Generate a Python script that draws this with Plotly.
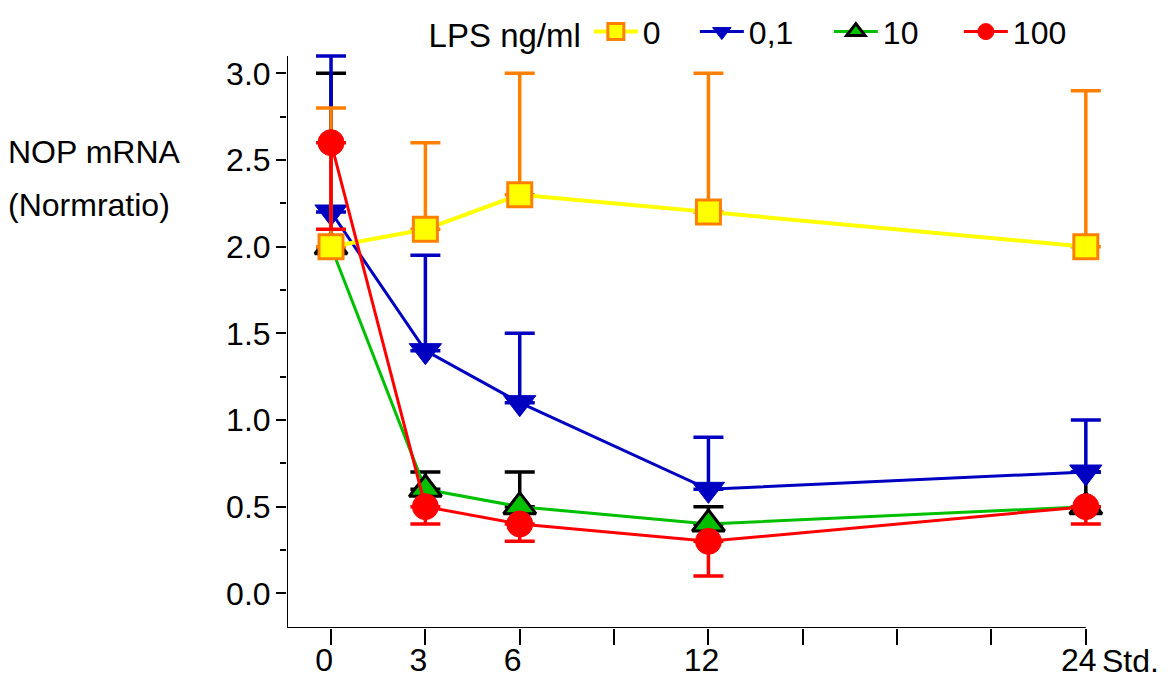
import plotly.graph_objects as go

# ---- data ----
hours = [0, 3, 6, 12, 24]
x_tick_vals = [0, 3, 6, 9, 12, 15, 18, 21, 24]
x_tick_text = ["0", "3", "6", "", "12", "", "", "", "24"]
y_tick_vals = [0.0, 0.5, 1.0, 1.5, 2.0, 2.5, 3.0]
y_minor_vals = [0.25, 0.75, 1.25, 1.75, 2.25, 2.75]

lps0 = [2.0, 2.1, 2.3, 2.2, 2.0]
lps0_err_up = [0.8, 0.5, 0.7, 0.8, 0.9]

lps01 = [2.2, 1.4, 1.1, 0.6, 0.7]
lps01_err_up = [0.9, 0.55, 0.4, 0.3, 0.3]

lps10 = [2.0, 0.6, 0.5, 0.4, 0.5]
lps10_err_up = [1.0, 0.1, 0.2, 0.1, 0.2]

lps100 = [2.6, 0.5, 0.4, 0.3, 0.5]
lps100_err_down = [0.5, 0.1, 0.1, 0.2, 0.1]

zeros = [0, 0, 0, 0, 0]

X_AXIS_MIN, X_AXIS_MAX = -1.4, 24
Y_AXIS_MIN, Y_AXIS_MAX = -0.2, 3.1

FONT = "Liberation Sans, Arial, sans-serif"
FS = 32
ERR_T = 3.5

fig = go.Figure()

# 10 ng/ml (green, drawn first)
fig.add_trace(go.Scatter(
    x=hours, y=lps10, name="10", mode="lines+markers", legendrank=3,
    legendwidth=71,
    line=dict(color="#00C000", width=3),
    marker=dict(symbol="triangle-up", size=28, color="#00C000",
                line=dict(color="black", width=3)),
    error_y=dict(type="data", symmetric=False, array=lps10_err_up,
                 arrayminus=zeros, color="black", thickness=ERR_T, width=15),
    cliponaxis=False,
))

# 0,1 ng/ml (blue)
fig.add_trace(go.Scatter(
    x=hours, y=lps01, name="0,1", mode="lines+markers", legendrank=2,
    legendwidth=75,
    line=dict(color="#0000C0", width=3),
    marker=dict(symbol="triangle-down", size=28, color="#0000C0",
                line=dict(color="#0000C0", width=1)),
    error_y=dict(type="data", symmetric=False, array=lps01_err_up,
                 arrayminus=zeros, color="#0000C0", thickness=ERR_T, width=15),
    cliponaxis=False,
))

# 0 ng/ml (yellow / orange)
fig.add_trace(go.Scatter(
    x=hours, y=lps0, name="0", mode="lines+markers", legendrank=1,
    legendwidth=47,
    line=dict(color="#FFFF00", width=4),
    marker=dict(symbol="square", size=24, color="#FFFF00",
                line=dict(color="#FF8000", width=3)),
    error_y=dict(type="data", symmetric=False, array=lps0_err_up,
                 arrayminus=zeros, color="#FF8000", thickness=ERR_T, width=15),
    cliponaxis=False,
))

# 100 ng/ml (red)
fig.add_trace(go.Scatter(
    x=hours, y=lps100, name="100", mode="lines+markers", legendrank=4,
    legendwidth=70,
    line=dict(color="#FF0000", width=3),
    marker=dict(symbol="circle", size=26, color="#FF0000",
                line=dict(color="#FF0000", width=1)),
    error_y=dict(type="data", symmetric=False, array=zeros,
                 arrayminus=lps100_err_down, color="#FF0000", thickness=ERR_T, width=15),
    cliponaxis=False,
))

# axis lines drawn as shapes so that the plot range can be a bit larger
# (prevents error-bar caps from being clipped at the edges)
shapes = [
    dict(type="line", xref="x", yref="y", x0=X_AXIS_MIN, x1=X_AXIS_MAX,
         y0=Y_AXIS_MIN, y1=Y_AXIS_MIN, line=dict(color="black", width=2)),
    dict(type="line", xref="x", yref="y", x0=X_AXIS_MIN, x1=X_AXIS_MIN,
         y0=Y_AXIS_MIN, y1=Y_AXIS_MAX, line=dict(color="black", width=2)),
]

fig.update_layout(
    width=1172, height=677,
    margin=dict(l=287, r=39, t=30, b=49, autoexpand=False),
    paper_bgcolor="white", plot_bgcolor="white",
    font=dict(family=FONT, size=FS, color="black"),
    showlegend=True,
    legend=dict(
        orientation="h", x=0.165, xanchor="left", y=0.997, yanchor="middle",
        title=dict(text="LPS ng/ml", font=dict(size=33)),
        font=dict(size=FS), itemwidth=44, traceorder="normal",
        bgcolor="rgba(0,0,0,0)",
    ),
    shapes=shapes,
    xaxis=dict(
        range=[X_AXIS_MIN, 25.5], showgrid=False, zeroline=False,
        showline=False,
        tickmode="array", tickvals=x_tick_vals, ticktext=x_tick_text,
        ticks="outside", ticklen=16, tickwidth=2, tickcolor="black",
        ticklabelshift=-7, ticklabelstandoff=-12,
        tickfont=dict(size=FS),
    ),
    yaxis=dict(
        range=[Y_AXIS_MIN, 3.25], showgrid=False, zeroline=False,
        showline=False,
        tickmode="array", tickvals=y_tick_vals, tickformat=".1f",
        ticks="outside", ticklen=10, tickwidth=2, tickcolor="black",
        ticklabelstandoff=-1,
        minor=dict(tickmode="array", tickvals=y_minor_vals, ticks="outside",
                   ticklen=6, tickwidth=2, tickcolor="black", showgrid=False),
        tickfont=dict(size=FS),
    ),
    annotations=[
        dict(text="NOP mRNA", xref="paper", yref="paper", x=-0.332, y=0.796,
             xanchor="left", yanchor="middle", showarrow=False,
             font=dict(size=FS)),
        dict(text="(Normratio)", xref="paper", yref="paper", x=-0.332, y=0.707,
             xanchor="left", yanchor="middle", showarrow=False,
             font=dict(size=FS)),
        dict(text="Std.", xref="x", yref="paper", x=24, y=0,
             xanchor="left", yanchor="middle", xshift=14, yshift=-33,
             showarrow=False, font=dict(size=FS)),
    ],
)

# remove the default 8px page margin so the figure sits at the window origin
fig.write_html("out.html",
               config={"displayModeBar": False},
               post_script="document.body.style.margin='0';document.body.style.overflow='hidden';")
